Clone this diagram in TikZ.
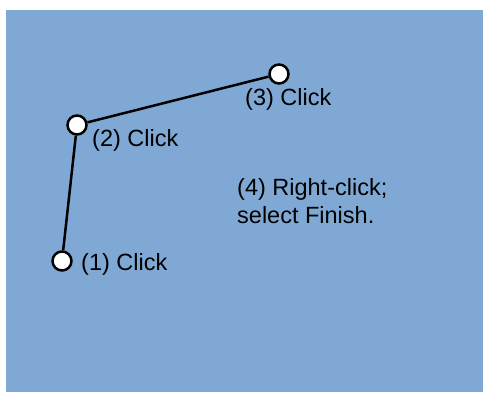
\documentclass[tikz,border=0pt]{standalone}
\usepackage{fontspec}
\setmainfont{Liberation Sans}
\definecolor{panelblue}{RGB}{127,169,212}
\tikzset{
  clickpt/.style={circle, draw=black, fill=white, line width=2.5pt, minimum size=19pt, inner sep=0pt},
  clicklabel/.style={anchor=base west, inner sep=0pt, font=\fontsize{23.5}{28}\selectfont},
  polyline/.style={line width=2.5pt, black}
}
\begin{document}
\begin{tikzpicture}[x=1pt, y=-1pt]
\useasboundingbox (0, 0) rectangle (483, 392);
\fill [panelblue] (6, 10) rectangle (483, 392);

\node (p1) [clickpt] at (62, 261) {};
\node (p2) [clickpt] at (77, 125) {};
\node (p3) [clickpt] at (279, 74) {};

\draw [polyline] (p1) -- (p2);
\draw [polyline] (p2) -- (p3);

\node (l1) [clicklabel] at (81, 270) {(1) Click};
\node (l2) [clicklabel] at (92, 146) {(2) Click};
\node (l3) [clicklabel] at (245, 105) {(3) Click};
\node (l4) [clicklabel, align=left] at (237, 223) {(4) Right-click;\\select Finish.};
\end{tikzpicture}
\end{document}
